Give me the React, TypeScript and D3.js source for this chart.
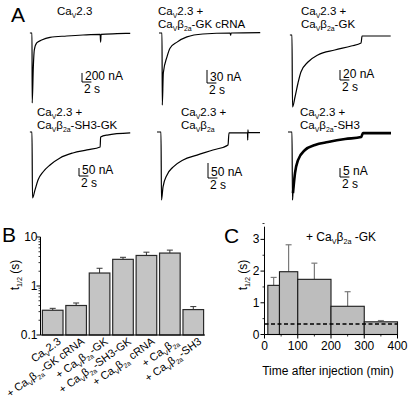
import React from "react";
import * as d3 from "d3";

// ---------- DATA ----------
// Panel A: current traces, [time (s) from pulse onset, current (nA)]
const TRACE_TITLES: string[][] = [
  ["Ca_{V}2.3"],
  ["Ca_{V}2.3 +", "Ca_{V}β_{2a}-GK cRNA"],
  ["Ca_{V}2.3 +", "Ca_{V}β_{2a}-GK"],
  ["Ca_{V}2.3 +", "Ca_{V}β_{2a}-SH3-GK"],
  ["Ca_{V}2.3 +", "Ca_{V}β_{2a}"],
  ["Ca_{V}2.3 +", "Ca_{V}β_{2a}-SH3"],
];
const SCALE_NA = [200, 30, 20, 50, 50, 5];
const SCALE_S = 2;

const TRACE_CA23: [number, number][] = [
  [-0.45, 0], [0, 0], [0.04, -1549], [0.28, -752], [0.49, -376], [1.0, -221], [2.06, -155],
  [3.83, -95], [7.4, -66], [10.85, -44], [14.5, -29], [14.6, -200], [14.7, -29], [18.1, -15], [20.9, -7],
];
const TRACE_GK_CRNA: [number, number][] = [
  [-0.64, 0], [0, 0], [0.06, -166], [0.28, -92], [1.06, -55], [1.7, -35], [3.2, -21], [5.3, -9],
  [8.7, -2.3], [14.5, 0], [14.6, -5], [14.7, 0], [20.9, 1],
];
const TRACE_GK: [number, number][] = [
  [-0.45, 0], [0, 0], [0.1, -144], [0.64, -124], [1.28, -96], [1.9, -74], [3.4, -54], [5.5, -40],
  [9.1, -30], [12.6, -22], [14.7, -16], [14.9, -2], [21, -2],
];
const TRACE_SH3_GK: [number, number][] = [
  [-0.45, 0], [0, 0], [0.1, -412], [0.64, -362], [1.28, -300], [2.34, -250], [3.83, -206],
  [5.96, -162], [8.7, -131], [11.7, -112], [14.5, -94], [14.6, -31], [16, -19], [20.9, -6],
];
const TRACE_B2A: [number, number][] = [
  [-0.85, 0], [0, 0], [0.1, -227], [0.43, -183], [1.28, -143], [2.55, -117], [4.7, -93],
  [7.66, -77], [11.06, -60], [14.26, -43], [14.47, -3], [18.4, -2], [18.45, -27], [18.5, 7],
  [18.55, -2], [21.06, -2],
];
const TRACE_SH3: [number, number][] = [
  [-0.85, 0], [0, 0], [0.1, -37.8], [0.21, -33.9], [0.64, -22.8], [1.28, -15.6], [2.77, -10],
  [4.9, -7.2], [7.66, -5.6], [11.3, -3.9], [14.7, -2.8], [15.1, -0.6], [21.06, -0.6],
];
const TRACES = [TRACE_CA23, TRACE_GK_CRNA, TRACE_GK, TRACE_SH3_GK, TRACE_B2A, TRACE_SH3];

// Panel B
const B_LABELS = [
  "Ca_{V}2.3",
  "+ Ca_{V}β_{2a}-GK cRNA",
  "+ Ca_{V}β_{2a}-GK",
  "+ Ca_{V}β_{2a}-SH3-GK",
  "+ Ca_{V}β_{2a} cRNA",
  "+ Ca_{V}β_{2a}",
  "+ Ca_{V}β_{2a}-SH3",
];
const B_MEAN = [0.32, 0.40, 1.84, 3.5, 4.2, 4.7, 0.33];
const B_SEM = [0.03, 0.05, 0.46, 0.35, 0.7, 0.7, 0.05];
const B_MAJOR = [0.1, 1, 10];
const B_MAJOR_LABELS = ["0.1", "1", "10"];

// Panel C
const C_BIN_START = [10, 45, 100, 200, 300];
const C_BIN_END = [45, 100, 200, 300, 400];
const C_MEAN = [1.55, 1.98, 1.74, 0.89, 0.40];
const C_SEM = [0.25, 0.85, 0.51, 0.46, 0.04];
const C_CONTROL = 0.33;
const C_X_TICKS = [0, 100, 200, 300, 400];
const C_Y_TICKS = [0, 1, 2, 3];

// ---------- LAYOUT ----------
const FONT = "'Liberation Sans', Arial, Helvetica, sans-serif";
const PX_PER_S = 4.7;
const TRACE_LAYOUT = [
  { x0: 32, y0: 33, k: 0.0452, bx: 82, by: 82, tx: 57, ty: 15 },
  { x0: 162, y0: 33, k: 0.434, bx: 207, by: 83, tx: 158, ty: 15 },
  { x0: 292, y0: 35, k: 0.5, bx: 340, by: 80, tx: 301, ty: 15 },
  { x0: 32, y0: 132, k: 0.16, bx: 79, by: 176, tx: 37, ty: 116 },
  { x0: 161, y0: 132, k: 0.3, bx: 208, by: 178, tx: 181, ty: 116 },
  { x0: 292, y0: 132, k: 1.8, bx: 340, by: 177, tx: 300, ty: 116 },
];

function rich(text: string, fs: number) {
  const parts: React.ReactElement[] = [];
  const re = /_\{([^}]*)\}/g;
  let last = 0;
  let m: RegExpExecArray | null;
  let shifted = false;
  let k = 0;
  const sub = fs * 0.28;
  while ((m = re.exec(text))) {
    if (m.index > last) {
      parts.push(<tspan key={k++} dy={shifted ? -sub : 0}>{text.slice(last, m.index)}</tspan>);
      shifted = false;
    }
    parts.push(
      <tspan key={k++} fontSize={fs * 0.6} dy={shifted ? 0 : sub}>{m[1]}</tspan>
    );
    shifted = true;
    last = re.lastIndex;
  }
  if (last < text.length)
    parts.push(<tspan key={k++} dy={shifted ? -sub : 0}>{text.slice(last)}</tspan>);
  return parts;
}

function PanelA() {
  return (
    <g>
      <text x={11} y={22} fontSize={21} fontFamily={FONT}>A</text>
      {TRACES.map((tr, i) => {
        const L = TRACE_LAYOUT[i];
        const xs = d3.scaleLinear().domain([0, 1]).range([L.x0, L.x0 + PX_PER_S]);
        const ys = d3.scaleLinear().domain([0, -1]).range([L.y0, L.y0 + L.k]);
        const line = d3
          .line<[number, number]>()
          .x((d) => xs(d[0]))
          .y((d) => ys(d[1]))
          .curve(d3.curveMonotoneX);
        const barH = ys(-SCALE_NA[i]) - ys(0);
        const barW = xs(SCALE_S) - xs(0);
        const noisy = i === 5;
        return (
          <g key={i}>
            {TRACE_TITLES[i].map((t, j) => (
              <text key={j} x={L.tx} y={L.ty + j * 13} fontSize={11.5} fontFamily={FONT}>
                {rich(t, 11.5)}
              </text>
            ))}
            <path d={line(tr) || ""} fill="none" stroke="#000" strokeWidth={1.2} strokeLinejoin="round" />
            {noisy && (
              <path
                d={line(tr.filter((d) => d[0] >= 0.2)) || ""}
                fill="none"
                stroke="#000"
                strokeWidth={2.6}
                strokeLinejoin="round"
              />
            )}
            <path
              d={`M${L.bx},${L.by - barH}V${L.by}H${L.bx + barW}`}
              fill="none"
              stroke="#000"
              strokeWidth={1}
            />
            <text x={L.bx + 3} y={L.by - 2} fontSize={12} fontFamily={FONT}>
              {`${SCALE_NA[i]} nA`}
            </text>
            <text x={L.bx + 2} y={L.by + 11} fontSize={12} fontFamily={FONT}>
              {`${SCALE_S} s`}
            </text>
          </g>
        );
      })}
    </g>
  );
}

function PanelB() {
  const x = d3.scaleBand<string>().domain(B_LABELS).range([41, 205]).paddingInner(0.12).paddingOuter(0.06);
  const y = d3.scaleLog().domain([0.1, 10]).range([335, 237]);
  const minor: number[] = [];
  [0.1, 1].forEach((dec) => {
    for (let m = 2; m <= 9; m++) minor.push(dec * m);
  });
  const axX = 40.5;
  return (
    <g fontFamily={FONT}>
      <text x={2} y={242} fontSize={21}>B</text>
      {B_LABELS.map((lab, i) => {
        const x0 = x(lab)!;
        const w = x.bandwidth();
        const top = y(B_MEAN[i]);
        const et = y(B_MEAN[i] + B_SEM[i]);
        const cx = x0 + w / 2;
        return (
          <g key={i}>
            <line x1={cx} x2={cx} y1={top} y2={et} stroke="#333" strokeWidth={1} />
            <line x1={cx - 3} x2={cx + 3} y1={et} y2={et} stroke="#333" strokeWidth={1} />
            <rect x={x0} y={top} width={w} height={y(0.1) - top} fill="#c4c4c4" stroke="#2a2a2a" strokeWidth={1.2} />
            <text
              transform={`translate(${cx + 9},${343}) rotate(-36)`}
              textAnchor="end"
              fontSize={11}
            >
              {rich(lab, 11)}
            </text>
          </g>
        );
      })}
      <line x1={axX} x2={axX} y1={y(10)} y2={y(0.1)} stroke="#000" strokeWidth={1} />
      <line x1={axX} x2={205} y1={y(0.1)} y2={y(0.1)} stroke="#000" strokeWidth={1.2} />
      {B_MAJOR.map((v, i) => (
        <g key={i}>
          <line x1={axX - 4} x2={axX} y1={y(v)} y2={y(v)} stroke="#000" />
          <text x={axX - 3} y={y(v) + 4} textAnchor="end" fontSize={12}>{B_MAJOR_LABELS[i]}</text>
        </g>
      ))}
      {minor.map((v, i) => (
        <line key={i} x1={axX - 2} x2={axX} y1={y(v)} y2={y(v)} stroke="#000" strokeWidth={0.8} />
      ))}
      <text transform="translate(19,275) rotate(-90)" textAnchor="middle" fontSize={12}>
        {rich("t_{1/2} (s)", 12)}
      </text>
    </g>
  );
}

function PanelC() {
  const x = d3.scaleLinear().domain([0, 400]).range([264.5, 397.5]);
  const y = d3.scaleLinear().domain([0, 3.4]).range([334.5, 226.7]);
  const axY = y(0);
  const axX = 264.5;
  return (
    <g fontFamily={FONT}>
      <text x={224} y={243} fontSize={21}>C</text>
      <text x={306} y={241} fontSize={12}>{rich("+ Ca_{V}β_{2a} -GK", 12)}</text>
      {C_MEAN.map((v, i) => {
        const cx = (x(C_BIN_START[i]) + x(C_BIN_END[i])) / 2;
        const et = y(v + C_SEM[i]);
        return (
          <g key={i}>
            <line x1={cx} x2={cx} y1={y(v)} y2={et} stroke="#7a7a7a" strokeWidth={1.2} />
            <line x1={cx - 3} x2={cx + 3} y1={et} y2={et} stroke="#7a7a7a" strokeWidth={1.2} />
          </g>
        );
      })}
      {C_MEAN.map((v, i) => (
        <rect
          key={i}
          x={x(C_BIN_START[i])}
          y={y(v)}
          width={x(C_BIN_END[i]) - x(C_BIN_START[i])}
          height={axY - y(v)}
          fill="#bdbdbd"
          stroke="#1a1a1a"
          strokeWidth={1.1}
        />
      ))}
      <line x1={axX} x2={x(400)} y1={y(C_CONTROL)} y2={y(C_CONTROL)} stroke="#000" strokeWidth={1.5} strokeDasharray="4,2.5" />
      <line x1={axX} x2={axX} y1={y(3.4)} y2={axY} stroke="#000" strokeWidth={1} />
      <line x1={axX} x2={x(400)} y1={axY} y2={axY} stroke="#000" strokeWidth={1} />
      {C_Y_TICKS.map((v) => (
        <g key={v}>
          <line x1={axX - 4} x2={axX} y1={y(v)} y2={y(v)} stroke="#000" />
          <text x={axX - 5} y={y(v) + 4} textAnchor="end" fontSize={12}>{v}</text>
        </g>
      ))}
      {C_Y_TICKS.map((v) => (
        <line key={v} x1={axX - 2} x2={axX} y1={y(v + 0.5)} y2={y(v + 0.5)} stroke="#000" strokeWidth={0.8} />
      ))}
      {C_X_TICKS.map((v) => (
        <g key={v}>
          <line x1={x(v)} x2={x(v)} y1={axY} y2={axY + 4} stroke="#000" />
          <text x={x(v)} y={350} textAnchor="middle" fontSize={12}>{v}</text>
        </g>
      ))}
      {C_X_TICKS.slice(0, -1).map((v) => (
        <line key={v} x1={x(v + 50)} x2={x(v + 50)} y1={axY} y2={axY + 2} stroke="#000" strokeWidth={0.8} />
      ))}
      <text x={328} y={375} textAnchor="middle" fontSize={12}>Time after injection (min)</text>
      <text transform="translate(247,275) rotate(-90)" textAnchor="middle" fontSize={12}>
        {rich("t_{1/2} (s)", 12)}
      </text>
    </g>
  );
}

export default function App() {
  return (
    <svg
      width={408}
      height={402}
      viewBox="0 0 408 402"
      style={{ position: "absolute", left: 0, top: 0, background: "#fff" }}
    >
      <rect width={408} height={402} fill="#fff" />
      <PanelA />
      <PanelB />
      <PanelC />
    </svg>
  );
}
